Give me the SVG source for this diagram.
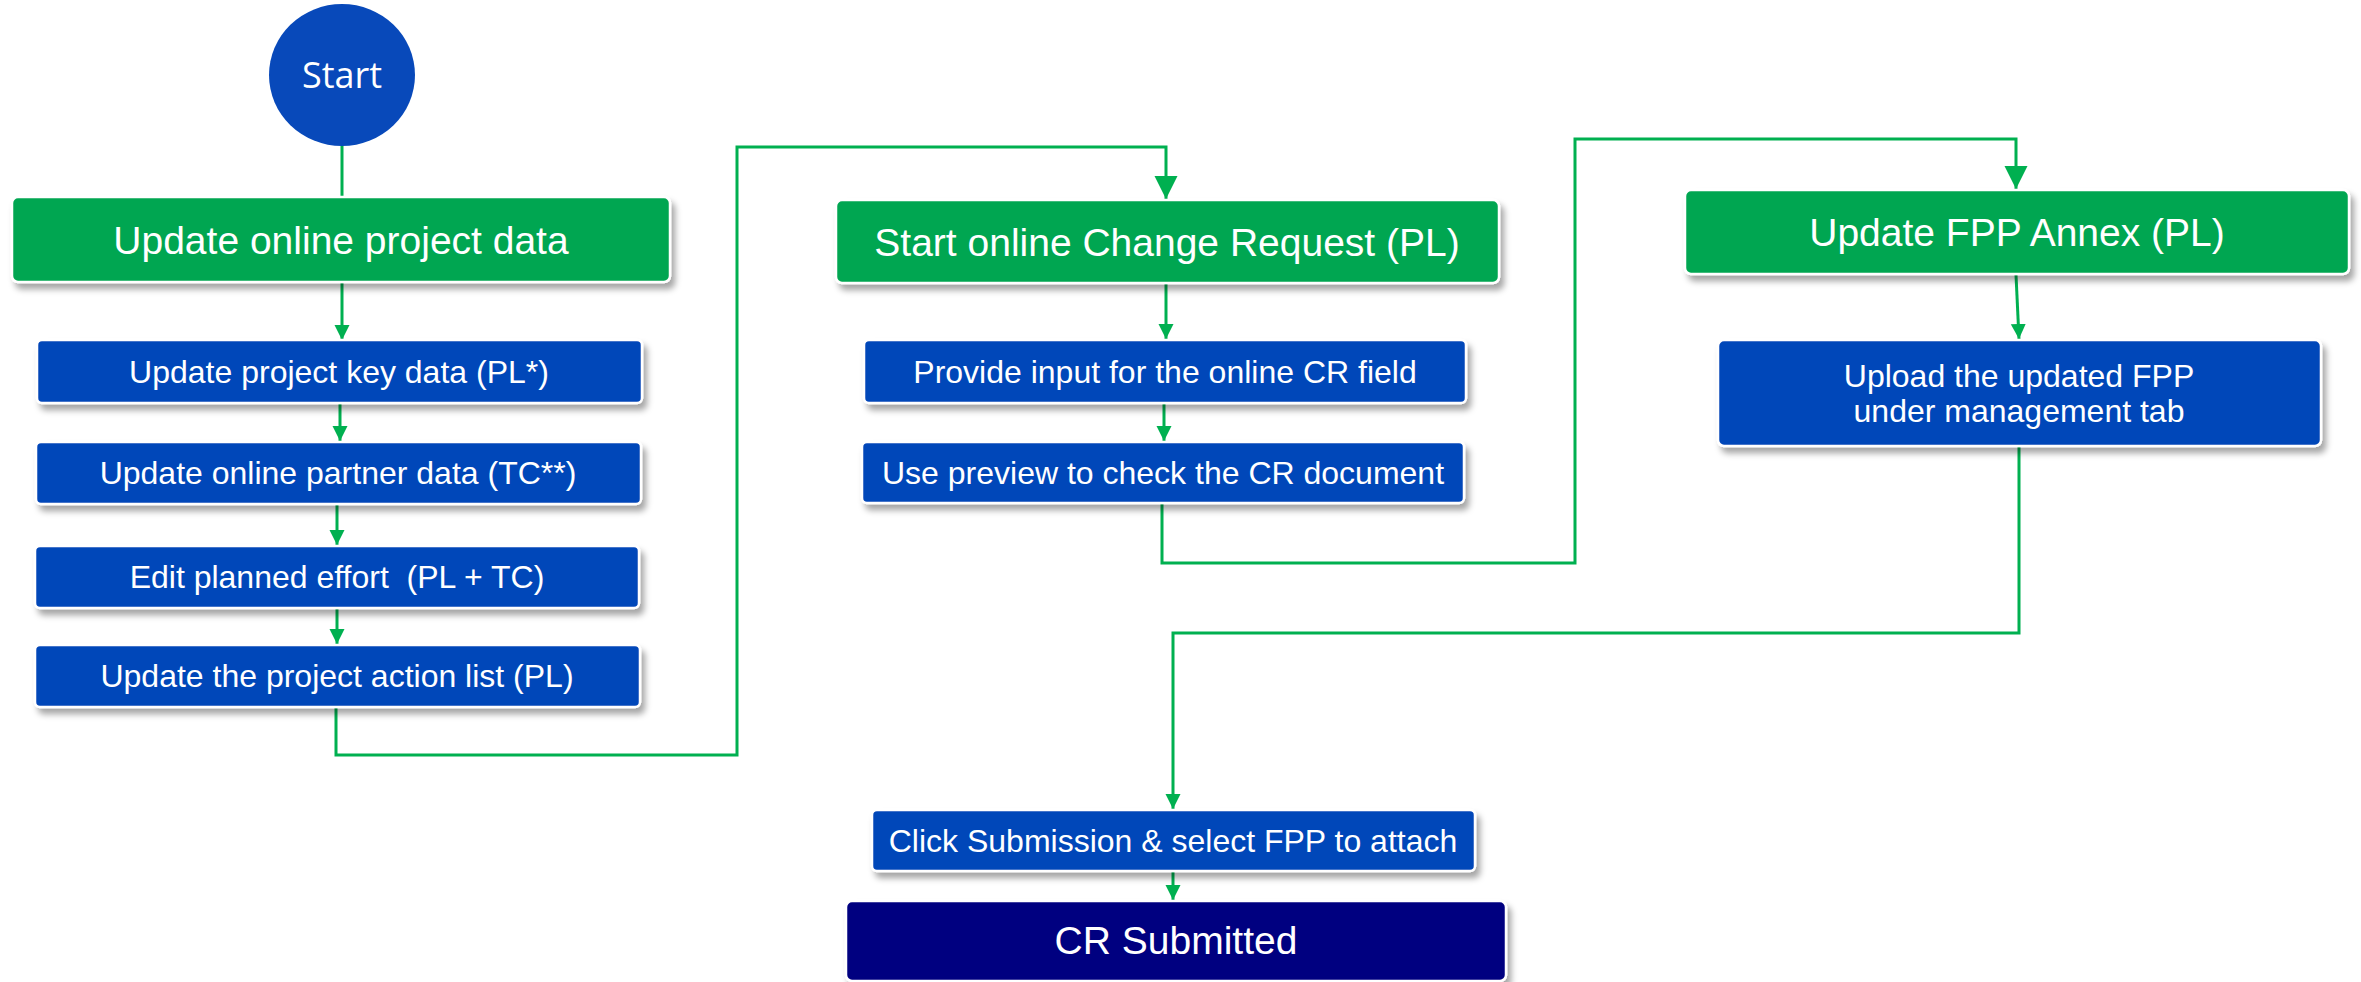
<svg xmlns="http://www.w3.org/2000/svg" width="2361" height="982" viewBox="0 0 2361 982">
<defs>
<filter id="sh" x="-5%" y="-20%" width="115%" height="160%">
<feDropShadow dx="4" dy="6" stdDeviation="3" flood-color="#000" flood-opacity="0.35"/>
</filter>
<marker id="aS" viewBox="0 0 10 10" refX="10" refY="5" markerUnits="userSpaceOnUse" markerWidth="15" markerHeight="16" orient="auto">
<path d="M0,0 L10,5 L0,10 z" fill="#00B050"/>
</marker>
<marker id="aL" viewBox="0 0 10 10" refX="10" refY="5" markerUnits="userSpaceOnUse" markerWidth="23" markerHeight="26" orient="auto">
<path d="M0,0 L10,5 L0,10 z" fill="#00B050"/>
</marker>
</defs>
<style>
.g{fill:#00A651;stroke:#fff;stroke-width:2.5;filter:url(#sh)}
.b{fill:#0646B9;stroke:#fff;stroke-width:2.5;filter:url(#sh)}
.n{fill:#000080;stroke:#fff;stroke-width:2.5;filter:url(#sh)}
.t{font-family:"Liberation Sans",Arial,sans-serif;fill:#fff;text-anchor:middle}
.tl{font-size:39px}
.ts{font-size:32px}
.c{fill:none;stroke:#00B050;stroke-width:3}
</style>
<rect width="2361" height="982" fill="#fff"/>

<g id="connectors">
<path class="c" d="M342,145 V197"/>
<path class="c" d="M342,283 V340" marker-end="url(#aS)"/>
<path class="c" d="M340,403 V441" marker-end="url(#aS)"/>
<path class="c" d="M337,504 V545" marker-end="url(#aS)"/>
<path class="c" d="M337,608 V644" marker-end="url(#aS)"/>
<path class="c" d="M336,708 V755 H737 V147 H1166 V199" marker-end="url(#aL)"/>
<path class="c" d="M1166,284 V339" marker-end="url(#aS)"/>
<path class="c" d="M1164,404 V441" marker-end="url(#aS)"/>
<path class="c" d="M1162,504 V563 H1575 V139 H2016 V189" marker-end="url(#aL)"/>
<path class="c" d="M2016,275 L2019,339" marker-end="url(#aS)"/>
<path class="c" d="M2019,447 V633 H1173 V809" marker-end="url(#aS)"/>
<path class="c" d="M1173,872 V900" marker-end="url(#aS)"/>
</g>

<g id="start">
<ellipse cx="342" cy="75" rx="73" ry="71" fill="#0849BA"/>
<text x="342" y="88" font-family="'Open Sans','Noto Sans',sans-serif" font-size="36" fill="#fff" text-anchor="middle">Start</text>
</g>

<g id="update-online-project-data">
<rect class="g" x="12" y="197" width="658" height="85" rx="6"/>
<text class="t tl" x="341" y="254">Update online project data</text>
</g>

<g id="update-project-key-data">
<rect class="b" x="37" y="340" width="605" height="63" rx="5"/>
<text class="t ts" x="339" y="383">Update project key data (PL*)</text>
</g>

<g id="update-online-partner-data">
<rect class="b" x="36" y="442" width="605" height="62" rx="5"/>
<text class="t ts" x="338" y="484">Update online partner data (TC**)</text>
</g>

<g id="edit-planned-effort">
<rect class="b" x="35" y="546" width="604" height="62" rx="5"/>
<text class="t ts" x="337" y="588" xml:space="preserve">Edit planned effort  (PL + TC)</text>
</g>

<g id="update-action-list">
<rect class="b" x="35" y="645" width="605" height="62" rx="5"/>
<text class="t ts" x="337" y="687">Update the project action list (PL)</text>
</g>

<g id="start-online-cr">
<rect class="g" x="836" y="200" width="663" height="83" rx="6"/>
<text class="t tl" x="1167" y="256">Start online Change Request (PL)</text>
</g>

<g id="provide-input">
<rect class="b" x="864" y="340" width="602" height="63" rx="5"/>
<text class="t ts" x="1165" y="383">Provide input for the online CR field</text>
</g>

<g id="use-preview">
<rect class="b" x="862" y="442" width="602" height="61" rx="5"/>
<text class="t ts" x="1163" y="484">Use preview to check the CR document</text>
</g>

<g id="update-fpp-annex">
<rect class="g" x="1685" y="190" width="664" height="84" rx="6"/>
<text class="t tl" x="2017" y="246">Update FPP Annex (PL)</text>
</g>

<g id="upload-fpp">
<rect class="b" x="1718" y="340" width="603" height="106" rx="6"/>
<text class="t ts" x="2019" y="387">Upload the updated FPP</text>
<text class="t ts" x="2019" y="422">under management tab</text>
</g>

<g id="click-submission">
<rect class="b" x="872" y="810" width="603" height="61" rx="5"/>
<text class="t ts" x="1173" y="852">Click Submission &amp; select FPP to attach</text>
</g>

<g id="cr-submitted">
<rect class="n" x="846" y="901" width="660" height="80" rx="6"/>
<text class="t tl" x="1176" y="954">CR Submitted</text>
</g>
</svg>
